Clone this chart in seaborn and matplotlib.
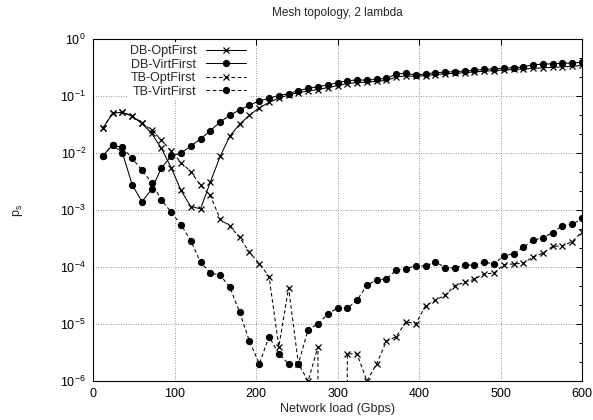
import matplotlib
matplotlib.use("Agg")
import matplotlib.pyplot as plt
import seaborn as sns
from matplotlib.ticker import FixedLocator, NullFormatter

# Network load (Gbps), one point every 12 Gbps
load = [12, 24, 36, 48, 60, 72, 84, 96, 108, 120,
        132, 144, 156, 168, 180, 192, 204, 216, 228, 240,
        252, 264, 276, 288, 300, 312, 324, 336, 348, 360,
        372, 384, 396, 408, 420, 432, 444, 456, 468, 480,
        492, 504, 516, 528, 540, 552, 564, 576, 588, 600]

db_opt = [0.027, 0.050, 0.052, 0.044, 0.033, 0.022, 0.012, 0.0055, 0.0022, 0.00115,
          0.00105, 0.0031, 0.0087, 0.020, 0.032, 0.046, 0.062, 0.077, 0.092, 0.104,
          0.115, 0.122, 0.130, 0.140, 0.152, 0.165, 0.172, 0.175, 0.180, 0.188,
          0.215, 0.225, 0.220, 0.228, 0.238, 0.245, 0.250, 0.257, 0.265, 0.272,
          0.280, 0.285, 0.292, 0.298, 0.305, 0.312, 0.318, 0.325, 0.330, 0.345]

db_virt = [0.0089, 0.0138, 0.0102, 0.0028, 0.0014, 0.0023, 0.0055, 0.0088, 0.0100, 0.0132,
           0.0177, 0.0246, 0.035, 0.046, 0.057, 0.069, 0.082, 0.091, 0.102, 0.110,
           0.124, 0.136, 0.146, 0.156, 0.171, 0.186, 0.191, 0.190, 0.196, 0.204,
           0.243, 0.250, 0.233, 0.243, 0.257, 0.262, 0.267, 0.275, 0.282, 0.294,
           0.300, 0.306, 0.314, 0.322, 0.355, 0.360, 0.369, 0.374, 0.380, 0.390]

tb_opt = [0.027, 0.050, 0.052, 0.045, 0.034, 0.025, 0.017, 0.0108, 0.0068, 0.0047,
          0.0027, 0.0018, 0.00069, 0.00052, 0.00033, 0.00018, 0.000115, 6.8e-5, 4e-6, 4.3e-5,
          2e-6, 1e-6, 4e-6, 0, 0, 3e-6, 3e-6, 1e-6, 2e-6, 5e-6,
          6e-6, 1.1e-5, 1e-5, 2.1e-5, 2.6e-5, 3.2e-5, 4.7e-5, 5.4e-5, 6.1e-5, 7.6e-5,
          7.8e-5, 1.1e-4, 1.13e-4, 1.17e-4, 1.5e-4, 1.75e-4, 2.3e-4, 2.35e-4, 2.8e-4, 4.15e-4]

tb_virt = [0.0089, 0.0138, 0.0125, 0.0081, 0.0050, 0.0030, 0.0015, 0.00091, 0.00055, 0.00029,
           0.00012, 7.9e-5, 7.2e-5, 4.4e-5, 1.6e-5, 5e-6, 2e-6, 6e-6, 3e-6, 2e-6,
           2e-6, 8e-6, 1e-5, 1.5e-5, 1.9e-5, 1.9e-5, 2.6e-5, 4.8e-5, 5.9e-5, 6.2e-5,
           8.8e-5, 9.3e-5, 1.06e-4, 1.04e-4, 1.23e-4, 9.8e-5, 9.6e-5, 1.09e-4, 1.07e-4, 1.22e-4,
           1.13e-4, 1.58e-4, 1.7e-4, 2.2e-4, 2.95e-4, 3.25e-4, 4e-4, 5.3e-4, 5.6e-4, 7.1e-4]

names = ["DB-OptFirst", "DB-VirtFirst", "TB-OptFirst", "TB-VirtFirst"]
series = [db_opt, db_virt, tb_opt, tb_virt]
x_ticks = [0, 100, 200, 300, 400, 500, 600]

sns.set_style("white")
plt.rcParams["font.family"] = ["Liberation Sans", "DejaVu Sans"]
plt.rcParams["mathtext.default"] = "regular"
plt.rcParams["font.size"] = 8.5

W, H = 593, 420
fig = plt.figure(figsize=(W / 100, H / 100), dpi=100)
ax = fig.add_axes([93 / W, 1 - 381 / H, (582 - 93) / W, (381 - 39) / H])

dash = (0, (3.5, 2.5))
styles = {
    "DB-OptFirst": dict(marker="x", linestyle="-", markersize=5),
    "DB-VirtFirst": dict(marker="o", linestyle="-", markersize=4.3),
    "TB-OptFirst": dict(marker="x", linestyle=dash, markersize=5),
    "TB-VirtFirst": dict(marker="o", linestyle=dash, markersize=4.3),
}

for name, vals in zip(names, series):
    sns.lineplot(x=load, y=vals, ax=ax, color="black", label=name,
                 linewidth=0.75, markeredgecolor="black", markerfacecolor="black",
                 markeredgewidth=0.9, **styles[name])

ax.set_yscale("log")
ax.set_xlim(0, 600)
ax.set_ylim(1e-6, 1)
ax.set_xticks(x_ticks)
ax.yaxis.set_minor_locator(FixedLocator(
    [10 ** (k + f) for k in range(-6, 0) for f in (1 / 3, 2 / 3)]))
ax.yaxis.set_minor_formatter(NullFormatter())

ax.tick_params(which="both", direction="in", top=True, right=True,
               width=0.7, colors="black", labelsize=9)
ax.tick_params(which="major", length=4.5, pad=5)
ax.tick_params(which="minor", length=2.5)
ax.grid(True, which="major", color="0.45", linestyle=(0, (1, 2)), linewidth=0.6)
for sp in ax.spines.values():
    sp.set_linewidth(0.8)
    sp.set_color("black")

ax.set_xlabel("")
ax.set_ylabel("")
ax.xaxis.offsetText.set_visible(False)
ax.yaxis.offsetText.set_visible(False)

handles, labels = ax.get_legend_handles_labels()
leg = ax.legend(handles, labels, loc="upper left", bbox_to_anchor=(0.07, 0.99),
                markerfirst=False, frameon=True, facecolor="white", edgecolor="none",
                framealpha=1, fancybox=False, handlelength=3.2, handletextpad=0.8,
                labelspacing=0.13, borderpad=0.2, borderaxespad=0, numpoints=1,
                fontsize=9)

fig.text(337.5 / W, 1 - 13 / H, "Mesh topology, 2 lambda", ha="center", va="center", fontsize=8.5)
fig.text(337.5 / W, 1 - 409 / H, "Network load (Gbps)", ha="center", va="center", fontsize=9)
fig.text(18 / W, 1 - 210 / H, "p$_s$", ha="center", va="center", rotation=90, fontsize=9)

fig.savefig("out.png", dpi=100)
